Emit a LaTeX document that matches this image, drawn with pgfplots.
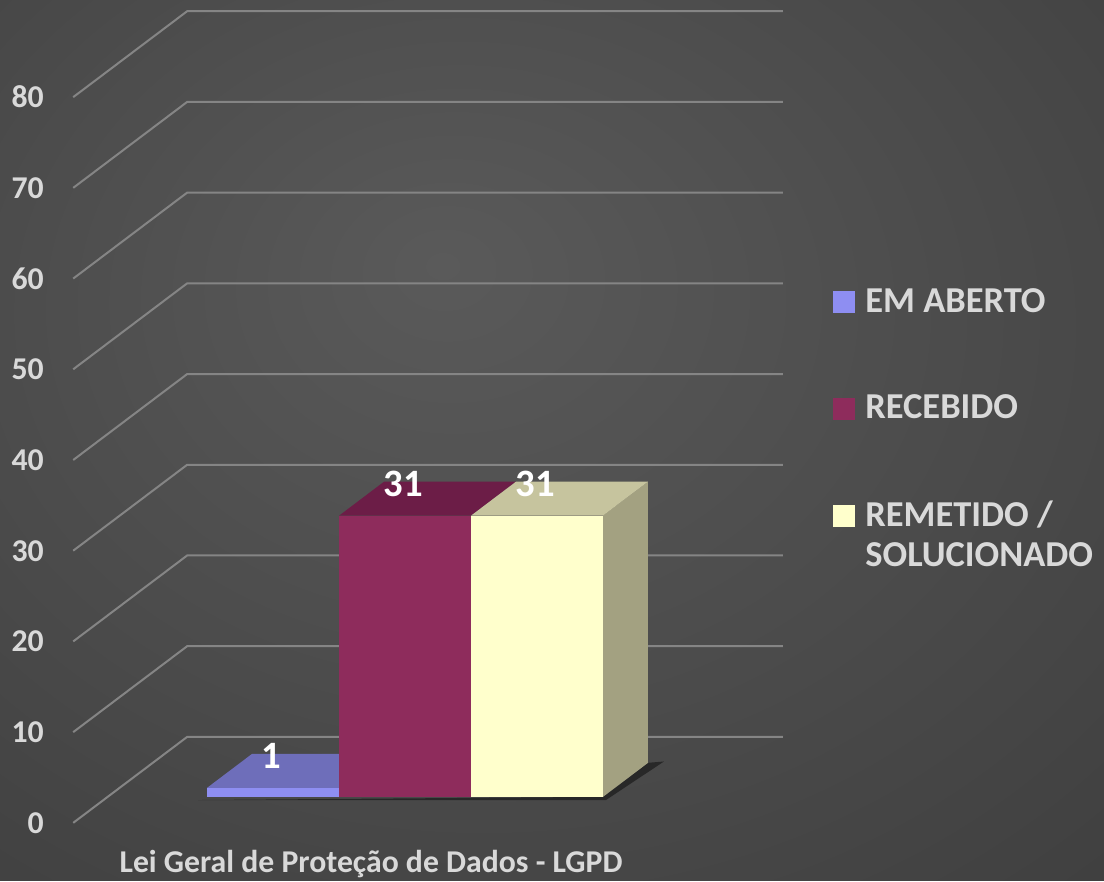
\documentclass[border=0pt]{standalone}
\usepackage{pgfplots}
\pgfplotsset{compat=1.18}
\usepackage{fontspec}
\setmainfont{Carlito}
\definecolor{bgin}{HTML}{5A5A5A}
\definecolor{bgmid}{HTML}{404040}
\definecolor{bgout}{HTML}{242424}
\definecolor{labgray}{HTML}{D9D9D9}
\definecolor{gridc}{HTML}{858585}
\definecolor{emfront}{HTML}{8E8EF2}
\definecolor{emtop}{HTML}{6E6EBA}
\definecolor{recfront}{HTML}{8E2C5C}
\definecolor{rectop}{HTML}{6C1D47}
\definecolor{remfront}{HTML}{FFFFCC}
\definecolor{remtop}{HTML}{C6C49E}
\definecolor{remside}{HTML}{A3A181}
\pgfdeclareradialshading{bgshade}{\pgfpoint{-5bp}{10bp}}{color(0bp)=(bgin); color(40bp)=(bgmid); color(75bp)=(bgout)}
\begin{document}
\begin{tikzpicture}
\begin{axis}[
  scale only axis, width=441.6pt, height=352.4pt,
  xmin=0, xmax=1104, ymin=-9.256, ymax=87.82,
  axis line style={draw=none}, major tick length=0pt,
  /pgf/number format/assume math mode=true,
  axis background/.style={shading=bgshade},
  ytick={-2.865,7.135,17.135,27.135,37.135,47.135,57.135,67.135,77.135},
  yticklabels={{0},{10},{20},{30},{40},{50},{60},{70},{80}},
  yticklabel style={anchor=east, inner sep=0pt, xshift=17.6pt, text=labgray, font=\bfseries\fontsize{12.7}{15}\selectfont},
  xtick={371}, xticklabels={Lei Geral de Proteção de Dados - LGPD},
  xticklabel style={anchor=base, inner sep=0pt, yshift=3.2pt, text=labgray, font=\bfseries\fontsize{12.7}{15}\selectfont},
  legend cell align=left,
  legend style={draw=none, fill=none, inner sep=0pt, at={(0.7545,0.6731)}, anchor=north west,
    row sep=31.5pt, column sep=4pt,
    nodes={inner sep=0pt, text=labgray, font=\bfseries\fontsize{14.6}{16}\selectfont, align=left},
    cells={anchor=west}},
]
% back-wall gridlines
\pgfplotsinvokeforeach{0,...,8}{
  \addplot[draw=gridc, line width=0.8pt, forget plot] coordinates {(73,#1*10-2.865) (187,#1*10+6.61) (783,#1*10+6.61)};
}
% floor shadow
\addplot[fill=black, fill opacity=0.45, draw=none, forget plot] coordinates {(198,-0.35) (606,-0.35) (664,3.9) (648,3.75) (603,0)};
% EM ABERTO
\addplot[fill=emtop, draw=none, forget plot] coordinates {(207,1) (339,1) (384,4.747) (252,4.747)} -- cycle;
\addplot[ybar, bar width=132, bar shift=0pt, fill=emfront, draw=none, forget plot,
  nodes near coords, nodes near coords style={anchor=center, yshift=12.8pt, xshift=-0.6pt, text=white, font=\bfseries\fontsize{15.5}{17}\selectfont}]
  table[x=x, y=v] {
x v
273 1
};
% RECEBIDO
\addplot[fill=rectop, draw=none, forget plot] coordinates {(339,31) (471,31) (516,34.747) (384,34.747)} -- cycle;
\addplot[ybar, bar width=132, bar shift=0pt, fill=recfront, draw=none, forget plot,
  nodes near coords, nodes near coords style={anchor=center, yshift=12.8pt, xshift=-0.6pt, text=white, font=\bfseries\fontsize{15.5}{17}\selectfont}]
  table[x=x, y=v] {
x v
405 31
};
% REMETIDO / SOLUCIONADO
\addplot[fill=remside, draw=none, forget plot] coordinates {(603,0) (603,31) (648,34.747) (648,3.747)} -- cycle;
\addplot[fill=remtop, draw=none, forget plot] coordinates {(471,31) (603,31) (648,34.747) (516,34.747)} -- cycle;
\addplot[ybar, bar width=132, bar shift=0pt, fill=remfront, draw=none, forget plot,
  nodes near coords, nodes near coords style={anchor=center, yshift=12.8pt, xshift=-0.6pt, text=white, font=\bfseries\fontsize{15.5}{17}\selectfont}]
  table[x=x, y=v] {
x v
537 31
};
\addlegendimage{legend image code/.code={\fill[emfront] (0pt,-4.2pt) rectangle (8.4pt,4.2pt);}}
\addlegendentry{EM ABERTO}
\addlegendimage{legend image code/.code={\fill[recfront] (0pt,-4.2pt) rectangle (8.4pt,4.2pt);}}
\addlegendentry{RECEBIDO}
\addlegendimage{legend image code/.code={\fill[remfront] (0pt,3.8pt) rectangle (8.4pt,12.2pt);}}
\addlegendentry{REMETIDO /\\SOLUCIONADO}
\end{axis}
\end{tikzpicture}
\end{document}
